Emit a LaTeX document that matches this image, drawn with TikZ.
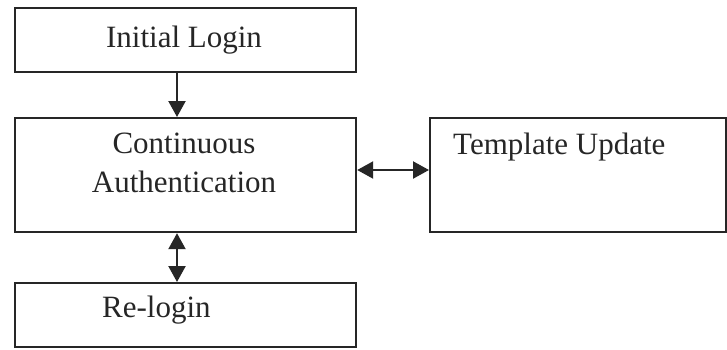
\documentclass[tikz,border=0pt]{standalone}
\usepackage{fontspec}
\setmainfont{Liberation Serif}
\usetikzlibrary{arrows.meta}
\begin{document}
\begin{tikzpicture}[x=1pt,y=-1pt,
  box/.style={draw=black!85, line width=2.2pt, inner sep=0pt, anchor=north west},
  lbl/.style={font=\fontsize{31}{39}\selectfont, text=black!85, inner sep=0pt},
  tipa/.tip={Triangle[length=16pt,width=17pt]},
  arr/.style={draw=black!85, line width=2.2pt, -tipa},
  darr/.style={draw=black!85, line width=2.2pt, tipa-tipa}]
\useasboundingbox[fill=white] (0,0) rectangle (727,349);
\node[box, minimum width=341pt, minimum height=64pt] (init) at (14,7) {};
\node[box, minimum width=341pt, minimum height=114pt] (cont) at (14,117) {};
\node[box, minimum width=296pt, minimum height=114pt] (tmpl) at (429,117) {};
\node[box, minimum width=341pt, minimum height=64pt] (relog) at (14,282) {};
\node[lbl, anchor=base] (tinit) at (184,47) {Initial Login};
\node[lbl, anchor=base] (tcont1) at (184,153) {Continuous};
\node[lbl, anchor=base] (tcont2) at (184,192) {Authentication};
\node[lbl, anchor=base west] (ttmpl) at (453,154) {Template Update};
\node[lbl, anchor=base west] (trel) at (102,317) {Re-login};
\coordinate (ax) at (177,0);
\coordinate (ay) at (0,170);
\draw[arr] (init.south -| ax) -- (cont.north -| ax);
\draw[darr] (cont.south -| ax) -- (relog.north -| ax);
\draw[darr] (cont.east |- ay) -- (tmpl.west |- ay);
\end{tikzpicture}
\end{document}
